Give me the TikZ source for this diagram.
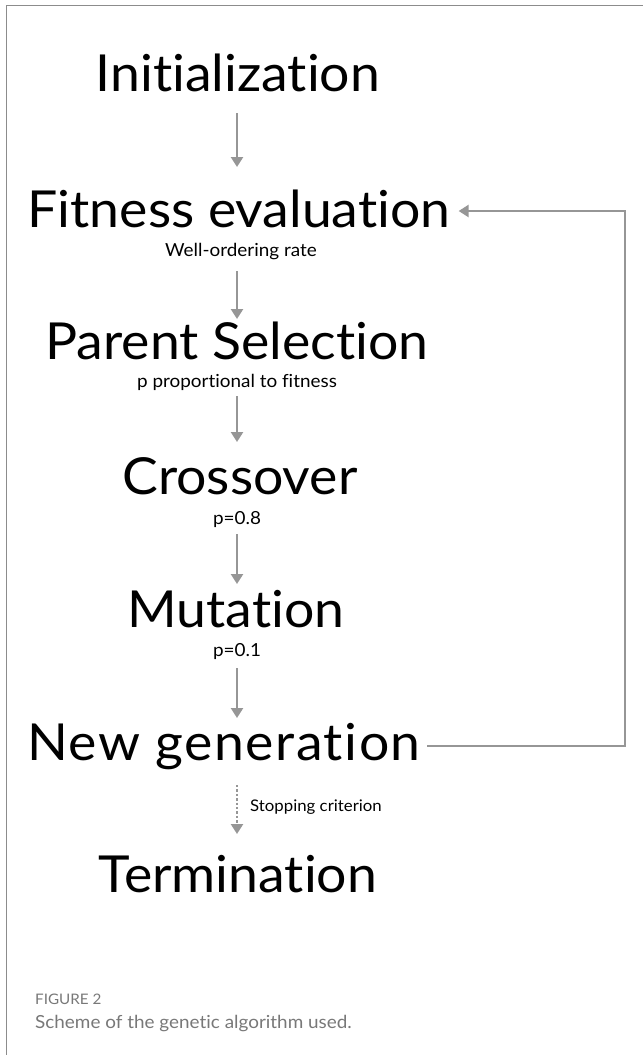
\documentclass[tikz,border=0pt]{standalone}
\usepackage{fontspec}
\setmainfont{Lato}[Ligatures={NoCommon,NoContextual}]
\newfontfamily\figfont{Lato}[FakeStretch=1.05,Ligatures={NoCommon,NoContextual}]
\usetikzlibrary{arrows.meta}
\definecolor{arrowgray}{RGB}{150,150,150}
\definecolor{framegray}{RGB}{140,140,140}
\definecolor{capgray}{RGB}{120,120,120}
\tikzset{
  big/.style={font=\figfont\fontsize{51}{56}\selectfont, inner sep=0pt, anchor=base},
  small/.style={font=\figfont\fontsize{18}{21}\selectfont, inner sep=0pt, anchor=base},
  flow/.style={draw=arrowgray, line width=2.4pt, -{Triangle[length=10pt,width=12pt]}},
  dotflow/.style={draw=arrowgray, line width=2.4pt, dotted, -{Triangle[length=10pt,width=12pt]}},
  captext/.style={inner sep=0pt, anchor=base west, text=capgray}
}
\begin{document}
\begin{tikzpicture}[x=1pt,y=-1pt]
\useasboundingbox (0,0) rectangle (643,1055);
\draw[framegray, line width=1.5pt] (6.5,1055) -- (6.5,5.5) -- (643,5.5);

\node[big] (init) at (238,91) {Initialization};
\node[big] (fit) at (239,227) {Fitness evaluation};
\node[small] (fitl) at (241,256) {Well-ordering rate};
\node[big] (par) at (237,359) {Parent Selection};
\node[small] (parl) at (237,387) {p proportional to fitness};
\node[big] (cro) at (240,494) {Crossover};
\node[small] (crol) at (237,524) {p=0.8};
\node[big] (mut) at (236,627) {Mutation};
\node[small] (mutl) at (237,656) {p=0.1};
\node[big, font=\figfont\fontsize{51}{56}\selectfont\addfontfeatures{LetterSpace=3}] (new) at (224,760) {New generation};
\node[small, anchor=base west, font=\figfont\fontsize{16}{19}\selectfont] (stop) at (250,811) {Stopping criterion};
\node[big] (term) at (238,892) {Termination};

\coordinate (a1s) at (237,113); \coordinate (a1e) at (237,167);
\coordinate (a2s) at (237,271); \coordinate (a2e) at (237,319);
\coordinate (a3s) at (237,396); \coordinate (a3e) at (237,442);
\coordinate (a4s) at (237,534); \coordinate (a4e) at (237,584);
\coordinate (a5s) at (237,668); \coordinate (a5e) at (237,718);
\coordinate (a6s) at (237,785); \coordinate (a6e) at (237,834);
\draw[flow] (a1s) -- (a1e);
\draw[flow] (a2s) -- (a2e);
\draw[flow] (a3s) -- (a3e);
\draw[flow] (a4s) -- (a4e);
\draw[flow] (a5s) -- (a5e);
\draw[dotflow] (a6s) -- (a6e);

\coordinate (fbR) at (625,746);
\draw[flow] ([xshift=6pt,yshift=14pt]new.base east) -| (fbR) |- ([xshift=8pt,yshift=16pt]fit.base east);

\node[captext, font=\figfont\fontsize{14.5}{16}\selectfont] (figno) at (35,1004) {FIGURE 2};
\node[captext, font=\figfont\fontsize{18}{21}\selectfont] (capt) at (35,1028) {Scheme of the genetic algorithm used.};
\end{tikzpicture}
\end{document}
